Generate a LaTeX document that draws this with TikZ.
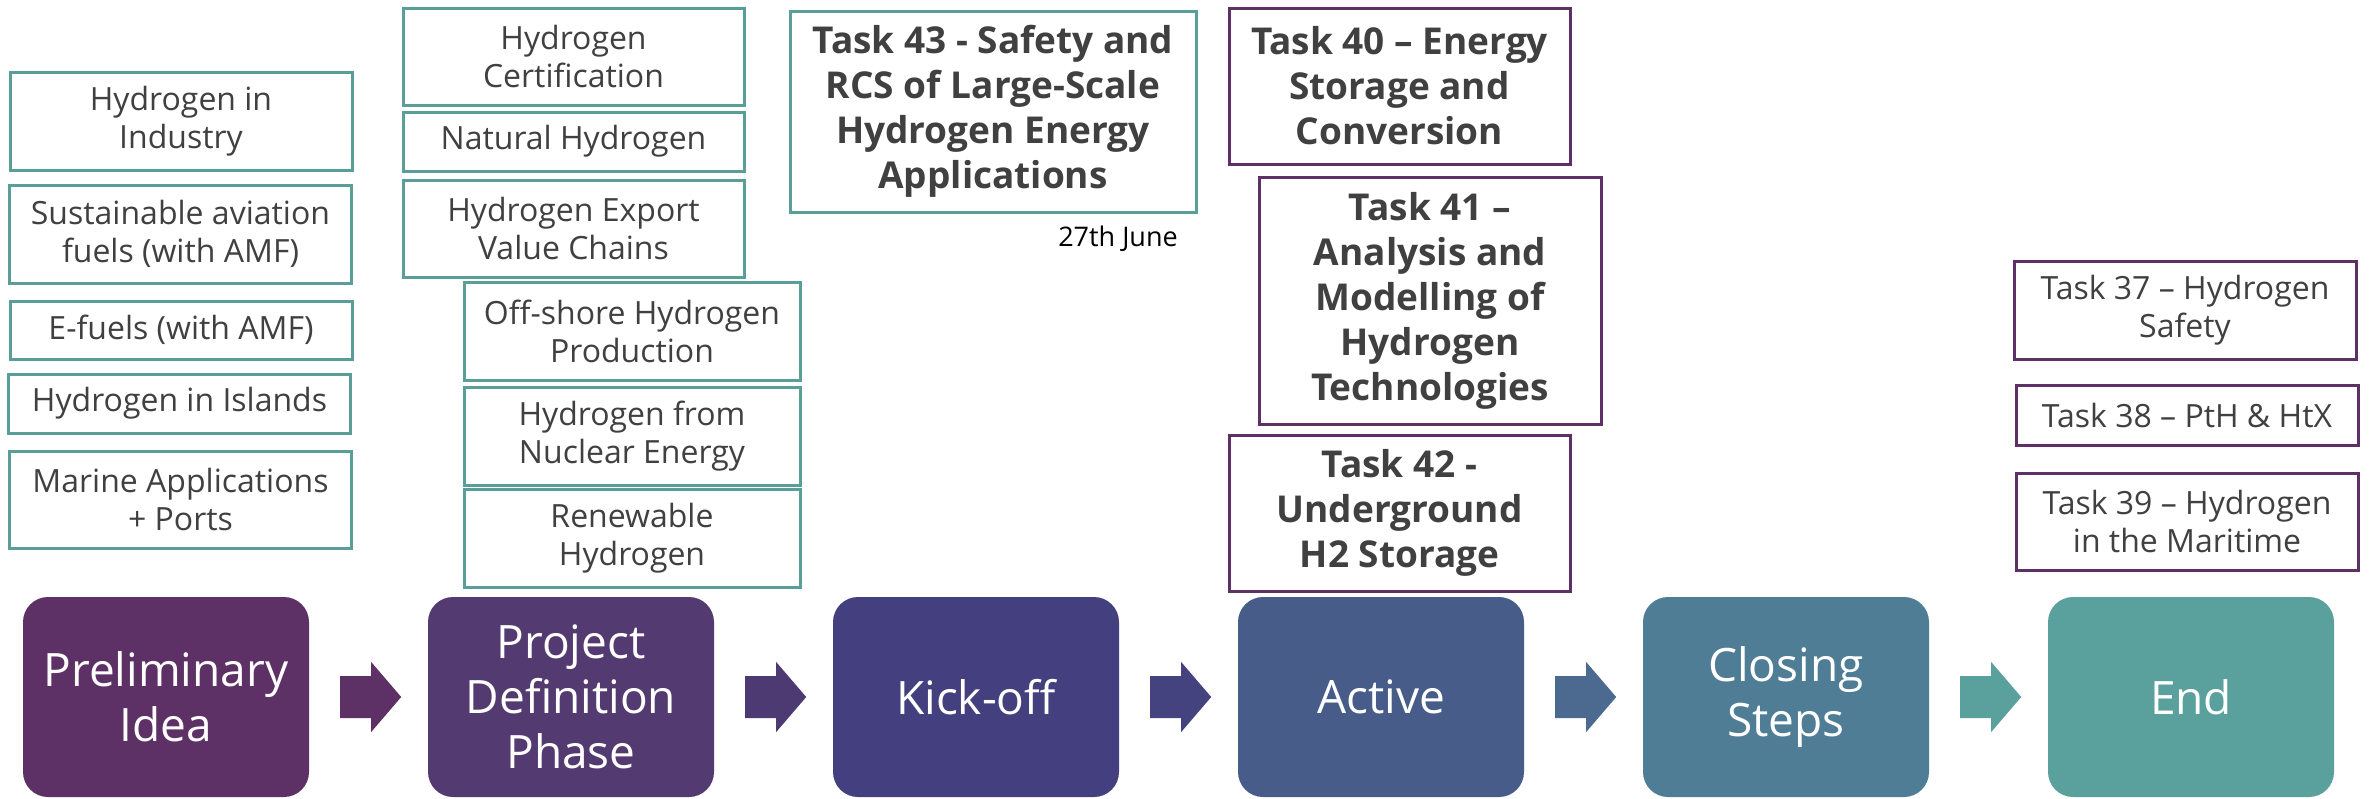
\documentclass[tikz,border=0pt]{standalone}
\usepackage{fontspec}
\setmainfont{Open Sans}
\usetikzlibrary{calc}

\definecolor{tealline}{HTML}{5A9E9A}
\definecolor{plumline}{HTML}{5E3166}
\definecolor{inkgray}{HTML}{404040}
\definecolor{stA}{HTML}{5E3166}
\definecolor{stB}{HTML}{533A70}
\definecolor{stC}{HTML}{443F7E}
\definecolor{stD}{HTML}{475C89}
\definecolor{stE}{HTML}{4F7D96}
\definecolor{stF}{HTML}{5AA09C}
\definecolor{arA}{HTML}{5E3166}
\definecolor{arB}{HTML}{4E3A73}
\definecolor{arC}{HTML}{45437F}
\definecolor{arD}{HTML}{4C6A90}
\definecolor{arE}{HTML}{5AA09C}

\tikzset{
  topic/.style={draw=tealline, line width=3pt, fill=white, align=center,
    inner sep=0pt, text=inkgray, font=\fontsize{32}{38}\selectfont},
  bigtopic/.style={draw=tealline, line width=3pt, fill=white, align=center,
    inner sep=0pt, text=inkgray, font=\fontsize{37}{45}\selectfont\bfseries},
  taskbold/.style={draw=plumline, line width=3pt, fill=white, align=center,
    inner sep=0pt, text=inkgray, font=\fontsize{37}{45}\selectfont\bfseries},
  taskplain/.style={draw=plumline, line width=3pt, fill=white, align=center,
    inner sep=0pt, text=inkgray, font=\fontsize{32}{38}\selectfont},
  stage/.style={rounded corners=25pt, minimum width=286pt, minimum height=200pt,
    inner sep=0pt, align=center, text=white, font=\fontsize{46}{55}\selectfont},
}

% block arrow from the right side of one stage towards the next
\newcommand{\phasearrow}[3]{%
  \fill[#3] ($(#1.east)+(31,-21)$) -- ($(#1.east)+(62,-21)$) -- ($(#1.east)+(62,-35)$)
    -- ($(#1.east)+(92,0)$) -- ($(#1.east)+(62,35)$) -- ($(#1.east)+(62,21)$)
    -- ($(#1.east)+(31,21)$) -- cycle;}

\begin{document}
\begin{tikzpicture}[x=1pt,y=-1pt]
\useasboundingbox (0,0) rectangle (2372,798);

% project stages
\node[stage, fill=stA] (prelim) at (166,697) {Preliminary\\Idea};
\node[stage, fill=stB] (projdef) at (571,697) {Project\\Definition\\Phase};
\node[stage, fill=stC] (kickoff) at (976,697) {Kick-off};
\node[stage, fill=stD] (active) at (1381,697) {Active};
\node[stage, fill=stE] (closing) at (1786,697) {Closing\\Steps};
\node[stage, fill=stF] (finish) at (2191,697) {End};

\phasearrow{prelim}{projdef}{arA}
\phasearrow{projdef}{kickoff}{arB}
\phasearrow{kickoff}{active}{arC}
\phasearrow{active}{closing}{arD}
\phasearrow{closing}{finish}{arE}

% preliminary ideas
\node[topic, minimum width=342pt, minimum height=98pt] (industry) at (181,121) {Hydrogen in\\Industry};
\node[topic, minimum width=342pt, minimum height=98pt] (saf) at (180.5,234) {Sustainable aviation\\fuels (with AMF)};
\node[topic, minimum width=342pt, minimum height=58pt] (efuels) at (181,330) {E-fuels (with AMF)};
\node[topic, minimum width=342pt, minimum height=59pt] (islands) at (179.5,403.5) {Hydrogen in Islands};
\node[topic, minimum width=342pt, minimum height=97pt] (marine) at (180.5,499.5) {Marine Applications\\+ Ports};

% project definition phase
\node[topic, minimum width=341pt, minimum height=97pt] (cert) at (573.5,56.5) {Hydrogen\\Certification};
\node[topic, minimum width=341pt, minimum height=59pt] (natural) at (573.5,141.5) {Natural Hydrogen};
\node[topic, minimum width=341pt, minimum height=97pt] (export) at (573.5,228.5) {Hydrogen Export\\Value Chains};
\node[topic, minimum width=336pt, minimum height=98pt] (offshore) at (632,331) {Off-shore Hydrogen\\Production};
\node[topic, minimum width=336pt, minimum height=98pt] (nuclear) at (632,436) {Hydrogen from\\Nuclear Energy};
\node[topic, minimum width=336pt, minimum height=98pt] (renew) at (632,538) {Renewable\\Hydrogen};

% kick-off
\node[bigtopic, minimum width=406pt, minimum height=201pt] (t43) at (993,111.5) {Task 43 - Safety and\\RCS of Large-Scale\\Hydrogen Energy\\Applications};
\node[font=\fontsize{27}{32}\selectfont, text=black, inner sep=0pt] (date43) at (1118,239) {27th June};

% active tasks
\node[taskbold, minimum width=341pt, minimum height=156pt] (t40) at (1399.5,86) {Task 40 – Energy\\Storage and\\Conversion};
\node[taskbold, minimum width=342pt, minimum height=247pt] (t41) at (1430,300.5) {Task 41 –\\Analysis and\\Modelling of\\Hydrogen\\Technologies};
\node[taskbold, minimum width=341pt, minimum height=156pt] (t42) at (1399.5,513) {Task 42 -\\Underground\\H2 Storage};

% ended tasks
\node[taskplain, minimum width=342pt, minimum height=98pt] (t37) at (2185,310) {Task 37 – Hydrogen\\Safety};
\node[taskplain, minimum width=342pt, minimum height=60pt] (t38) at (2187,415) {Task 38 – PtH \& HtX};
\node[taskplain, minimum width=342pt, minimum height=97pt] (t39) at (2187,521.5) {Task 39 – Hydrogen\\in the Maritime};
\end{tikzpicture}
\end{document}
